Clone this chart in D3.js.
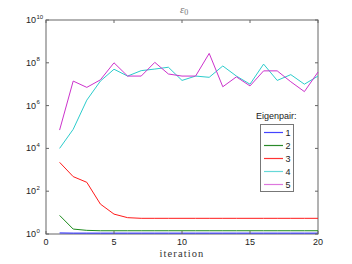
<!DOCTYPE html>
<html>
<head>
<meta charset="utf-8">
<script src="https://cdn.jsdelivr.net/npm/d3@7"></script>
<style>
  body { margin: 0; background: #fff; }
  svg { display: block; }
</style>
</head>
<body>
<div id="chart"></div>
<script>
// iterations 1..20
let iters = d3.range(1, 21);
let seriesNames = ["1", "2", "3", "4", "5"];
let colors = ["#2222ff", "#1a8a1a", "#ff1a1a", "#2ccccc", "#cc33cc"];
let legendColors = ["#4444ff", "#2a8a2a", "#ff3333", "#66d8d8", "#dd77dd"];

// values
let e1 = [1.12, 1.1, 1.1, 1.1, 1.1, 1.1, 1.1, 1.1, 1.1, 1.1, 1.1, 1.1, 1.1, 1.1, 1.1, 1.1, 1.1, 1.1, 1.1, 1.1];
let e2 = [7.4, 1.7, 1.48, 1.42, 1.42, 1.42, 1.42, 1.42, 1.42, 1.42, 1.42, 1.42, 1.42, 1.42, 1.42, 1.42, 1.42, 1.42, 1.42, 1.42];
let e3 = [2240, 480, 260, 25, 8.5, 5.8, 5.4, 5.4, 5.4, 5.4, 5.4, 5.4, 5.4, 5.4, 5.4, 5.4, 5.4, 5.4, 5.4, 5.4];
let e4 = [1.0e4, 7.8e4, 1.8e6, 1.4e7, 5.0e7, 2.4e7, 4.3e7, 5.1e7, 6.2e7, 1.5e7, 2.4e7, 2.1e7, 7.1e7, 2.4e7, 1.0e7, 8.7e7, 1.5e7, 2.8e7, 1.0e7, 2.4e7];
let e5 = [7.2e4, 1.4e7, 7.1e6, 1.6e7, 1.0e8, 2.4e7, 2.4e7, 1.05e8, 3.0e7, 2.4e7, 2.4e7, 2.75e8, 7.6e6, 2.2e7, 8.3e6, 4.2e7, 4.2e7, 1.3e7, 4.5e6, 3.7e7];
let seriesValues = [e1, e2, e3, e4, e5];

let xTicks = [0, 5, 10, 15, 20];
let yTickExps = [0, 2, 4, 6, 8, 10];

let width = 352, height = 264;
let mLeft = 46, mRight = 318, mTop = 20, mBottom = 234;

let svg = d3.select("#chart").append("svg")
    .attr("width", width)
    .attr("height", height);

let x = d3.scaleLinear().domain([0, 20]).range([mLeft, mRight]);
let y = d3.scaleLog().domain([1, 1e10]).range([mBottom, mTop]);

let axisColor = "#666";
let tickFont = "Liberation Sans, Arial, sans-serif";

// frame
svg.append("rect")
    .attr("x", mLeft).attr("y", mTop)
    .attr("width", mRight - mLeft).attr("height", mBottom - mTop)
    .attr("fill", "none")
    .attr("stroke", axisColor)
    .attr("stroke-width", 1);

// lines
let line = d3.line()
    .x((d, i) => x(iters[i]))
    .y(d => y(d));

seriesValues.forEach(function(vals, k){
    svg.append("path")
        .datum(vals)
        .attr("d", line)
        .attr("fill", "none")
        .attr("stroke", colors[k])
        .attr("stroke-width", 1);
});

// x ticks (inward, top and bottom)
let tickLen = 3;
xTicks.forEach(function(t){
    svg.append("line")
        .attr("x1", x(t)).attr("x2", x(t))
        .attr("y1", mBottom).attr("y2", mBottom - tickLen)
        .attr("stroke", axisColor);
    svg.append("line")
        .attr("x1", x(t)).attr("x2", x(t))
        .attr("y1", mTop).attr("y2", mTop + tickLen)
        .attr("stroke", axisColor);
    svg.append("text")
        .attr("x", x(t))
        .attr("y", mBottom + 11)
        .attr("text-anchor", "middle")
        .style("font-family", tickFont)
        .style("font-size", "9px")
        .attr("fill", "#222")
        .text(t);
});

// y ticks
yTickExps.forEach(function(e){
    let yy = y(Math.pow(10, e));
    svg.append("line")
        .attr("x1", mLeft).attr("x2", mLeft + tickLen)
        .attr("y1", yy).attr("y2", yy)
        .attr("stroke", axisColor);
    svg.append("line")
        .attr("x1", mRight).attr("x2", mRight - tickLen)
        .attr("y1", yy).attr("y2", yy)
        .attr("stroke", axisColor);
    svg.append("text")
        .attr("x", 36)
        .attr("y", yy + 3)
        .attr("text-anchor", "end")
        .style("font-family", tickFont)
        .style("font-size", "9px")
        .attr("fill", "#222")
        .text("10");
    svg.append("text")
        .attr("x", 36.5)
        .attr("y", yy - 1.5)
        .style("font-family", tickFont)
        .style("font-size", "6px")
        .attr("fill", "#222")
        .text(e);
});

// title
let title = svg.append("text")
    .attr("x", 180)
    .attr("y", 13)
    .style("font-family", "Liberation Serif, DejaVu Serif, serif")
    .style("font-size", "11px")
    .attr("fill", "#777");
title.append("tspan").style("font-style", "italic").text("ε");
title.append("tspan").attr("dy", 2).style("font-size", "8px").text("0");

// x label
svg.append("text")
    .attr("x", (mLeft + mRight) / 2)
    .attr("y", 257)
    .attr("text-anchor", "middle")
    .style("font-family", "Liberation Serif, DejaVu Serif, serif")
    .style("font-size", "10.5px")
    .style("letter-spacing", "1.1px")
    .attr("fill", "#333")
    .text("iteration");

// legend
svg.append("text")
    .attr("x", 256)
    .attr("y", 119)
    .style("font-family", tickFont)
    .style("font-size", "9px")
    .attr("fill", "#222")
    .text("Eigenpair:");

let lg = svg.append("g");
lg.append("rect")
    .attr("x", 260.5).attr("y", 124.5)
    .attr("width", 33).attr("height", 67)
    .attr("fill", "#fff")
    .attr("stroke", "#777");

seriesNames.forEach(function(name, k){
    let ly = 132.5 + k * 13;
    lg.append("line")
        .attr("x1", 264).attr("x2", 283)
        .attr("y1", ly).attr("y2", ly)
        .attr("stroke", legendColors[k])
        .attr("stroke-width", 1.2);
    lg.append("text")
        .attr("x", 285.5)
        .attr("y", ly + 3.2)
        .style("font-family", tickFont)
        .style("font-size", "9px")
        .attr("fill", "#222")
        .text(name);
});
</script>
</body>
</html>
